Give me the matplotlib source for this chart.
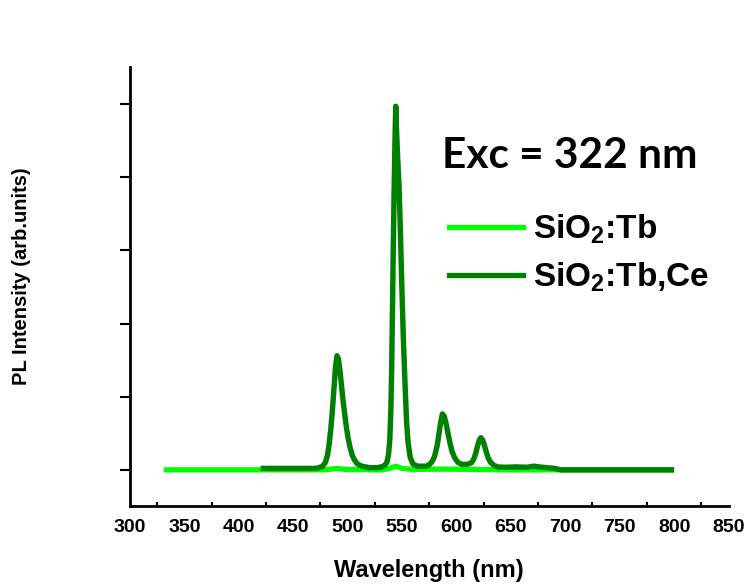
import matplotlib
matplotlib.use("Agg")
import matplotlib.pyplot as plt
from matplotlib.ticker import MultipleLocator
from matplotlib.lines import Line2D

plt.rcParams["font.family"] = ["Liberation Sans", "DejaVu Sans"]
plt.rcParams["font.weight"] = "bold"
plt.rcParams["mathtext.fontset"] = "custom"
plt.rcParams["mathtext.rm"] = "Liberation Sans:bold"
plt.rcParams["mathtext.bf"] = "Liberation Sans:bold"
plt.rcParams["mathtext.default"] = "bf"

# PL spectrum of SiO2:Tb,Ce (wavelength in nm, intensity in arb. units)
wl_tbce = [420, 440, 460, 470, 474, 477, 479.5, 481.5, 483, 484.5, 486, 487.5,
           488.8, 490.2, 491.5, 493, 494.5, 496, 497.5, 499, 500.5, 502, 504,
           506, 509, 513, 520, 527, 531, 534, 536, 537.5, 538.7, 539.7, 540.5,
           541.2, 541.9, 542.7, 543.5, 544.2, 545, 546, 547.2, 548.5, 549.8,
           551.2, 552.8, 554.2, 555.5, 557.5, 560, 564, 569, 572, 575, 577.5,
           579.5, 581, 582.5, 584, 585.5, 587.1, 588.8, 590.5, 592.2, 594, 596,
           598.5, 601.5, 605, 609, 611, 614, 616, 617.8, 619.3, 620.8, 622.4,
           624, 625.6, 627.3, 629.2, 631.5, 634.5, 638, 645, 655, 665, 671, 676,
           683, 690, 696, 720, 760, 800]
int_tbce = [0.02, 0.02, 0.02, 0.02, 0.03, 0.05, 0.1, 0.2, 0.35, 0.55, 0.82, 1.12,
            1.4, 1.56, 1.52, 1.35, 1.13, 0.92, 0.74, 0.57, 0.43, 0.32, 0.21,
            0.14, 0.08, 0.05, 0.03, 0.03, 0.04, 0.06, 0.1, 0.2, 0.4, 0.8, 1.4,
            2.2, 3.0, 3.8, 4.5, 4.97, 4.62, 4.25, 3.9, 3.25, 2.5,
            1.8, 1.15, 0.65, 0.38, 0.17, 0.08, 0.05, 0.05, 0.05, 0.07, 0.11,
            0.17, 0.25, 0.35, 0.5, 0.65, 0.765, 0.73, 0.63, 0.5, 0.37, 0.25,
            0.16, 0.1, 0.075, 0.075, 0.08, 0.1, 0.15, 0.23, 0.32, 0.4, 0.44,
            0.41, 0.34, 0.25, 0.16, 0.1, 0.06, 0.04, 0.035, 0.04, 0.035, 0.05, 0.04,
            0.03, 0.02, 0.0, 0.0, 0.0, 0.0]

# PL spectrum of SiO2:Tb
wl_tb = [331, 400, 470, 482, 490, 498, 530, 538, 544, 550, 560, 587, 622, 650, 800]
int_tb = [0.0, 0.0, 0.0, 0.005, 0.02, 0.005, 0.0, 0.015, 0.05, 0.02, 0.005, 0.01,
          0.005, 0.0, 0.0]

labels = ["SiO$_2$:Tb", "SiO$_2$:Tb,Ce"]
colors = ["#00FF00", "#008000"]
x_ticks = list(range(300, 851, 50))

W, H = 746, 586
fig = plt.figure(figsize=(W / 100, H / 100), dpi=100)
ax = fig.add_axes([130 / W, 80.3 / H, 598.5 / W, 439 / H])

ax.plot(wl_tb, int_tb, color=colors[0], lw=3.8, solid_capstyle="butt", zorder=2)
ax.plot(wl_tbce, int_tbce, color=colors[1], lw=3.9, solid_capstyle="butt",
        solid_joinstyle="round", zorder=3)

ax.set_xlim(300, 850)
ax.set_ylim(-0.49, 5.51)

for side in ("top", "right"):
    ax.spines[side].set_visible(False)
for side in ("left", "bottom"):
    ax.spines[side].set_linewidth(2.0)

ax.set_xticks(x_ticks)
ax.xaxis.set_minor_locator(MultipleLocator(50, offset=25))
ax.tick_params(axis="x", which="major", length=0, pad=9.5, labelsize=14)
ax.tick_params(axis="x", which="minor", direction="in", length=3, width=1.5)
for lab in ax.get_xticklabels():
    lab.set_fontweight("bold")

ax.set_yticks(range(0, 6))
ax.set_yticklabels([])
ax.tick_params(axis="y", which="major", direction="out", length=7, width=1.5)

ax.set_xlabel("Wavelength (nm)", fontsize=17, fontweight="bold")
ax.xaxis.set_label_coords(0.5, (H - 570 - 80.3) / 439)
ax.xaxis.label.set_va("center")
ax.set_ylabel("PL Intensity (arb.units)", fontsize=14.5, fontweight="bold")
ax.yaxis.set_label_coords((21.7 - 130) / 598.5, (H - 275.8 - 80.3) / 439)
ax.yaxis.label.set_va("center")

fig.text(441.7 / W, 1 - 168 / H, "Exc = 322 nm", family=["Lato", "DejaVu Sans"],
         fontweight="bold", fontsize=30.5, va="baseline", ha="left")

handles = [Line2D([], [], color=c, lw=3.8) for c in colors]
ax.legend(handles, labels, loc="upper left",
          bbox_to_anchor=(449.3 / W, 1 - 213 / H), bbox_transform=fig.transFigure,
          frameon=False, borderpad=0, borderaxespad=0,
          handlelength=2.2, handletextpad=0.3, labelspacing=0.42,
          prop={"weight": "bold", "size": 24})

fig.savefig("out.png", dpi=100)
